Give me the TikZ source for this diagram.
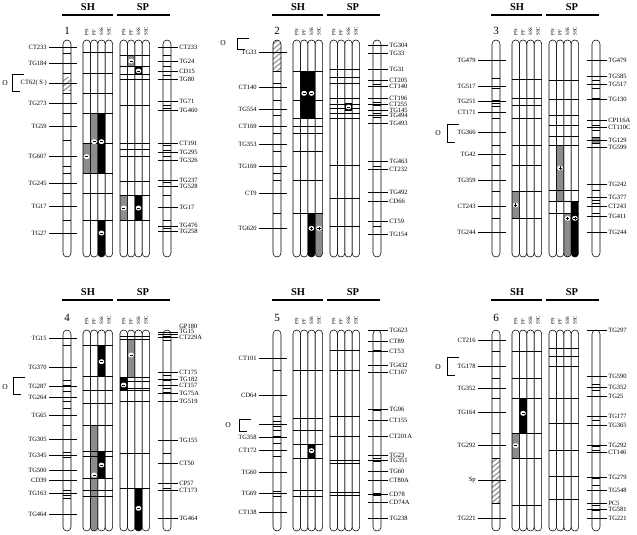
\documentclass[tikz,border=0pt]{standalone}
\usepackage{fontspec}
\setmainfont{Liberation Serif}
\definecolor{mg}{gray}{0.55}
\newcounter{nn}
\newcommand\bwd{7.4}
\def\RT{40}\def\RB{257}\def\HL{15}\def\HY{7}\def\PL{36}\def\NY{31}
\tikzset{
  lab/.style={font=\fontsize{6.5}{7}\selectfont, inner sep=0.5pt},
  hd/.style={font=\bfseries\fontsize{10.5}{12}\selectfont, inner sep=0pt},
  cl/.style={font=\fontsize{5}{5}\selectfont, rotate=90, anchor=west, inner sep=0pt},
  num/.style={font=\fontsize{11}{12}\selectfont, inner sep=0pt},
}
\newcommand\chr[2]{%
  \draw[rounded corners=4pt] ({#1-4},\RT) rectangle ({#1+4},\RB);
  \foreach \yy in {#2} \draw ({#1-4},\yy) -- ({#1+4},\yy);}
\newcommand\hatch[3]{%
  \begin{scope}
  \clip[rounded corners=4pt] ({#1-4},\RT) rectangle ({#1+4},\RB);
  \clip ({#1-4},#2) rectangle ({#1+4},#3);
  \foreach \k in {0,...,12} \draw[line width=1.4pt,gray!75] ({#1-5},{#2+5*\k}) -- ({#1+5},{#2+5*\k-8});
  \end{scope}}
\newcommand\bars[2]{%
  \foreach \i in {0,...,3} \draw[rounded corners=3.6pt] ({#1+\i*\bwd},\RT) rectangle ({#1+(\i+1)*\bwd},\RB);
  \foreach \yy in {#2} \draw ({#1},\yy) -- ({#1+4*\bwd},\yy);}
\newcommand\bfill[5]{%
  \begin{scope}
  \clip[rounded corners=3.6pt] ({#1+#2*\bwd},\RT) rectangle ({#1+(#2+1)*\bwd},\RB);
  \fill[#5] ({#1+#2*\bwd},#3) rectangle ({#1+(#2+1)*\bwd},#4);
  \end{scope}}
\newcommand\mkm[3]{%
  \fill[white] ({#1+(#2+0.5)*\bwd},#3) ellipse (2.8 and 2.5);
  \draw[line width=0.7pt] ({#1+(#2+0.5)*\bwd-1.6},#3) -- ({#1+(#2+0.5)*\bwd+1.6},#3);}
\newcommand\mkp[3]{\mkm{#1}{#2}{#3}%
  \draw[line width=0.7pt] ({#1+(#2+0.5)*\bwd},{#3-1.6}) -- ({#1+(#2+0.5)*\bwd},{#3+1.6});}
\newcommand\Ll[3]{\draw ({#1+49},#2) -- ({#1+77},#2);%
  \stepcounter{nn}\node[lab,anchor=east] (n\arabic{nn}) at ({#1+47.5},#2) {#3};}
\newcommand\Rl[3]{\draw ({#1+158},#2) -- ({#1+178},#2);%
  \stepcounter{nn}\node[lab,anchor=west] (n\arabic{nn}) at ({#1+178.5},#2) {#3};}
% right label whose text sits a little off its tick
\newcommand\Rlo[4]{\draw ({#1+158},#2) -- ({#1+178},#2);%
  \stepcounter{nn}\node[lab,anchor=west] (n\arabic{nn}) at ({#1+178.5},#3) {#4};}
\newcommand\hdr[2]{%
  \draw[line width=1.6pt] ({#1+62},\HL) -- ({#1+113},\HL);
  \draw[line width=1.6pt] ({#1+117},\HL) -- ({#1+170},\HL);
  \stepcounter{nn}\node[hd] (n\arabic{nn}) at ({#1+88},\HY) {SH};
  \stepcounter{nn}\node[hd] (n\arabic{nn}) at ({#1+143},\HY) {SP};
  \stepcounter{nn}\node[num] (n\arabic{nn}) at ({#1+67},\NY) {#2};
  \foreach \t [count=\i from 0] in {PN,PF,SSS,SSC} {
    \node[cl] (a#2\i) at ({#1+83+(\i+0.5)*\bwd},\PL) {\t};
    \node[cl] (b#2\i) at ({#1+120+(\i+0.5)*\bwd},\PL) {\t};}}
\newcommand\obr[5]{%
  \stepcounter{nn}\node[lab,font=\fontsize{7.5}{8}\selectfont] (n\arabic{nn}) at (#1,#5) {O};
  \draw ({#2+12},#3) -- (#2,#3) -- (#2,#4) -- ({#2+8},#4);}
\begin{document}
\begin{tikzpicture}[x=1pt,y=-1pt,line width=0.55pt]
\useasboundingbox (0,0) rectangle (637,535);
% ================= ROW 1 =================
% ---- Panel 1
\hdr{0}{1}
\hatch{67}{77}{90}
\chr{67}{53.3,73.3,93.3,113.3,140,166.7,173.3,193.3,220}
\Ll{0}{47.3}{CT233}\Ll{0}{63.3}{TG184}\Ll{0}{83.3}{CT62( S )}\Ll{0}{103.3}{TG273}
\Ll{0}{126.7}{TG59}\Ll{0}{156.7}{TG607}\Ll{0}{183.3}{TG245}\Ll{0}{206.7}{TG17}\Ll{0}{233.3}{TG27}
\obr{5}{12}{74}{91}{83.3}
\bfill{83}{0}{143.3}{173.3}{mg}
\bfill{83}{1}{113.3}{173.3}{mg}
\bfill{83}{2}{113.3}{173.3}{black}
\bfill{83}{2}{220}{\RB}{black}
\bars{83}{52.7,73.3,93.3,113.3,143.3,173.3,193.3,220}
\mkm{83}{0}{156.7}\mkm{83}{1}{141.7}\mkm{83}{2}{141.7}\mkm{83}{2}{233}
\bfill{120}{1}{55}{66.7}{mg}
\bfill{120}{2}{67.5}{74.5}{black}
\bfill{120}{0}{195}{220}{mg}
\bfill{120}{2}{195}{220}{black}
\bars{120}{55,66.7,74,79.3,105,143.3,149,156,181.7,195,220}
\mkm{120}{1}{61}\mkm{120}{2}{71}\mkm{120}{0}{208}\mkm{120}{2}{208}
\chr{167}{55,66.7,75,105,108,145,150,156,182,195,220,228}
\Rl{0}{47.3}{CT233}\Rl{0}{61.7}{TG24}\Rl{0}{71}{CD15}\Rl{0}{79}{TG80}\Rl{0}{101.7}{TG71}
\Rl{0}{110.7}{TG460}\Rl{0}{143.3}{CT191}\Rl{0}{152.7}{TG295}\Rl{0}{160.7}{TG326}\Rl{0}{180}{TG237}
\Rl{0}{186.7}{TG528}\Rl{0}{207.7}{TG17}\Rlo{0}{226}{225.5}{TG476}\Rlo{0}{231}{231.5}{TG258}
% ---- Panel 2
\hdr{210}{2}
\hatch{277}{40}{71.7}
\chr{277}{71.7,83.3,100,115,126.7,133.3,151.7,173.3,180,213.3}
\Ll{210}{52.7}{TG33}\Ll{210}{87.3}{CT140}\Ll{210}{109.3}{TG554}\Ll{210}{126.7}{CT169}
\Ll{210}{144}{TG353}\Ll{210}{166.7}{TG169}\Ll{210}{193.3}{CT9}\Ll{210}{228.3}{TG620}
\obr{223}{237}{38}{49}{43}
\bfill{293}{1}{71.7}{118.3}{black}
\bfill{293}{2}{71.7}{118.3}{black}
\bfill{293}{2}{213.3}{\RB}{black}
\bfill{293}{3}{213.3}{\RB}{mg}
\bars{293}{71.7,100,118.3,126.7,133.3,151.7,180,213.3}
\mkm{293}{1}{93.3}\mkm{293}{2}{93.3}\mkp{293}{2}{228.3}\mkp{293}{3}{228.3}
\bfill{330}{2}{103.3}{110.5}{black}
\bars{330}{69.3,77.3,83.3,98.3,104,108.3,113.3,118.3,165.7,198.3,226.7}
\mkm{330}{2}{107}
\chr{377}{69.3,80,84,98.3,102,105,110,113,117,161.7,166,192.7,221.7,226}
\Rl{210}{45}{TG304}\Rl{210}{53.3}{TG33}\Rl{210}{69.3}{TG31}\Rl{210}{80}{CT205}\Rl{210}{86}{CT140}
\Rl{210}{98.3}{CT196}\Rl{210}{104.3}{CT255}\Rl{210}{110}{TG145}\Rl{210}{115}{TG494}\Rl{210}{123.3}{TG493}
\Rl{210}{161.7}{TG463}\Rl{210}{169}{CT232}\Rl{210}{192.7}{TG492}\Rl{210}{201.7}{CD66}
\Rl{210}{221.7}{CT59}\Rl{210}{234.3}{TG154}
% ---- Panel 3
\hdr{429}{3}
\chr{496}{78.3,88.3,100,103.3,106.7,118.3,145,165,191.7,218.3}
\Ll{429}{60}{TG479}\Ll{429}{86}{TG517}\Ll{429}{101.7}{TG251}\Ll{429}{112.7}{CT171}
\Ll{429}{132.7}{TG366}\Ll{429}{154}{TG42}\Ll{429}{180}{TG359}\Ll{429}{206}{CT243}\Ll{429}{232.3}{TG244}
\obr{438}{447}{124}{142}{132.7}
\bfill{512}{0}{191.7}{218.3}{mg}
\bars{512}{79,98.3,105,118.3,145,165,191.7,218.3}
\mkp{512}{0}{205}
\bfill{549}{1}{145}{201.7}{mg}
\bfill{549}{3}{201.7}{\RB}{black}
\bfill{549}{2}{213.3}{\RB}{mg}
\bars{549}{80,99.3,115,125,136.7,145,190,201.7,213.3}
\mkp{549}{1}{168}\mkp{549}{2}{218.3}\mkp{549}{3}{218.3}
\fill[mg] (592,137) rectangle (600,143);
\chr{596}{80,88,98,125,130,137,143,190,200,203,213}
\Rl{429}{60}{TG479}\Rl{429}{76}{TG585}\Rl{429}{84.3}{TG517}\Rl{429}{99.3}{TG130}
\Rl{429}{120}{CP116A}\Rl{429}{127.3}{CT110C}\Rl{429}{140}{TG129}\Rl{429}{147.3}{TG599}
\Rl{429}{184.3}{TG242}\Rl{429}{197.7}{TG377}\Rl{429}{206}{CT243}\Rl{429}{216}{TG411}\Rl{429}{232.3}{TG244}
% ================= ROW 2 =================
\def\RT{330}\def\RB{531}\def\HL{300}\def\HY{292}\def\PL{325}\def\NY{318}
% ---- Panel 4
\hdr{0}{4}
\chr{67}{345,380,385,391.7,401.7,408.3,425,452.7,457.3,490,495.3,498.3}
\Ll{0}{338}{TG15}\Ll{0}{367.3}{TG370}\Ll{0}{386.7}{TG287}\Ll{0}{397.7}{TG264}\Ll{0}{415}{TG65}
\Ll{0}{439.3}{TG305}\Ll{0}{455}{TG345}\Ll{0}{470}{TG500}\Ll{0}{480.7}{CD39}\Ll{0}{493.3}{TG163}\Ll{0}{514}{TG464}
\obr{5}{13}{377}{394}{386.7}
\bfill{83}{2}{345}{376.7}{black}
\bfill{83}{1}{425}{\RB}{mg}
\bfill{83}{2}{451.7}{478.3}{black}
\bars{83}{345,376.7,390.7,403.3,425,451.7,456.7,478.3,490,496.7}
\mkm{83}{2}{361.7}\mkm{83}{2}{465}\mkm{83}{1}{475}
\bfill{120}{1}{339.3}{377.3}{mg}
\bfill{120}{0}{377.3}{390.7}{black}
\bfill{120}{2}{488.3}{\RB}{black}
\bars{120}{336,339.3,377.3,381.7,388.3,390.7,401.7,453.3,488.3}
\mkm{120}{1}{355}\mkm{120}{0}{385}\mkm{120}{2}{508.3}
\chr{167}{336,340,375,380,388,392,453,488}
\Rlo{0}{332}{326.2}{GP180}\Rlo{0}{334.5}{331.6}{TG15}\Rlo{0}{337}{337.2}{CT229A}\Rl{0}{372.7}{CT175}\Rl{0}{379}{TG182}
\Rl{0}{385.7}{CT157}\Rl{0}{393.3}{TG75A}\Rl{0}{401.7}{TG519}\Rl{0}{440}{TG155}\Rl{0}{463.3}{CT50}
\Rl{0}{483.3}{CP57}\Rl{0}{490}{CT173}\Rl{0}{518.3}{TG464}
% ---- Panel 5
\hdr{210}{5}
\chr{277}{370,416.7,421.7,426.7,430,436.7,443.3,456.7,491.7,496.7}
\Ll{210}{358.3}{CT101}\Ll{210}{395}{CD64}\Ll{210}{424}{}\Ll{210}{437.3}{TG358}\Ll{210}{450.7}{CT172}
\Ll{210}{472.7}{TG60}\Ll{210}{493.3}{TG69}\Ll{210}{512.7}{CT138}
\obr{228}{239}{419}{431}{425}
\bfill{293}{2}{444}{458.3}{black}
\bars{293}{370,418.3,430,444,458.3,490.7,496.7}
\mkm{293}{2}{450.7}
\bars{330}{350.7,370.7,416.7,436,460,463.3,492.7,495}
\fill (373,493) rectangle (381,495.5);
\chr{377}{350,372,410,436,458,461}
\Rl{210}{330}{TG623}\Rl{210}{341.7}{CT89}\Rl{210}{351}{CT53}\Rl{210}{365}{TG432}\Rl{210}{372.7}{CT167}
\Rl{210}{409.3}{TG96}\Rl{210}{420.7}{CT155}\Rl{210}{436}{CT201A}\Rl{210}{455}{TG23}\Rl{210}{460}{TG351}
\Rl{210}{471.7}{TG60}\Rl{210}{480.7}{CT80A}\Rl{210}{494}{CD78}\Rl{210}{502.7}{CD74A}\Rl{210}{518.3}{TG238}
% ---- Panel 6
\hdr{429}{6}
\hatch{496}{458.3}{503.3}
\chr{496}{351.7,378.3,398.3,433.3,458.3,503.3}
\Ll{429}{340}{CT216}\Ll{429}{366.7}{TG178}\Ll{429}{388.3}{TG352}\Ll{429}{412.7}{TG164}
\Ll{429}{445.7}{TG292}\Ll{429}{480}{Sp}\Ll{429}{518.3}{TG221}
\obr{438}{447}{357}{375}{366.7}
\bfill{512}{1}{398.3}{433.3}{black}
\bfill{512}{0}{433.3}{458.3}{mg}
\bars{512}{351.7,378.3,398.3,433.3,458.3,505}
\mkm{512}{1}{413.3}\mkm{512}{0}{445.7}
\bars{549}{348.3,356,366.7,398.3,423.3,450,476.7,499.3}
\chr{596}{376,384,390,396,420,446,450,478,485,505,510}
\Rl{429}{330}{TG297}\Rl{429}{376}{TG590}\Rl{429}{387.3}{TG352}\Rl{429}{396}{TG25}
\Rl{429}{416.7}{TG177}\Rl{429}{425.3}{TG365}\Rl{429}{445}{TG292}\Rl{429}{452.7}{CT146}
\Rl{429}{477.3}{TG279}\Rl{429}{490}{TG548}\Rl{429}{503.3}{PC5}\Rl{429}{509.3}{TG581}\Rl{429}{518.3}{TG221}
\end{tikzpicture}
\end{document}
